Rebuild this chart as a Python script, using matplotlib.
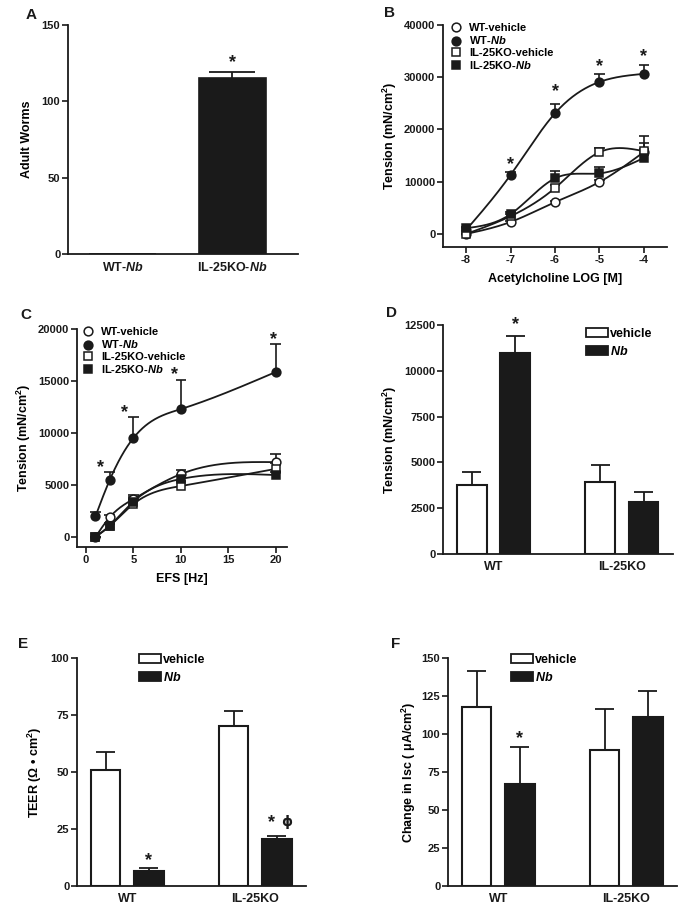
import numpy as np
import matplotlib
matplotlib.use('Agg')
import matplotlib.pyplot as plt
from matplotlib.lines import Line2D
from matplotlib.patches import Patch

plt.rcParams['font.family'] = ['Liberation Sans', 'DejaVu Sans']
plt.rcParams['font.weight'] = 'bold'
plt.rcParams['axes.labelweight'] = 'bold'
plt.rcParams['axes.unicode_minus'] = False
plt.rcParams['mathtext.fontset'] = 'custom'
plt.rcParams['mathtext.rm'] = 'Liberation Sans:bold'
plt.rcParams['mathtext.it'] = 'Liberation Sans:bold:italic'
plt.rcParams['mathtext.bf'] = 'Liberation Sans:bold'
plt.rcParams['mathtext.default'] = 'rm'

INK = '#1a1a1a'

# ---------------- data ----------------
# Panel A
a_groups = ['WT-$\\mathit{Nb}$', 'IL-25KO-$\\mathit{Nb}$']
a_values = [0, 115.3]
a_sem = [0, 3.9]

# Panel B
b_x = [-8, -7, -6, -5, -4]
b_wt_veh = [0, 2300, 6100, 9950, 15700]
b_wt_veh_sem = [0, 200, 300, 400, 600]
b_wt_nb = [770, 11300, 23100, 29100, 30650]
b_wt_nb_sem = [300, 500, 1700, 1600, 1600]
b_ko_veh = [0, 3400, 8800, 15650, 15850]
b_ko_veh_sem = [0, 400, 600, 900, 3000]
b_ko_nb = [1100, 3800, 10650, 11600, 14550]
b_ko_nb_sem = [300, 400, 1350, 1300, 2800]

# Panel C
c_x = [1, 2.5, 5, 10, 20]
c_wt_veh = [0, 1900, 3650, 6050, 7200]
c_wt_veh_sem = [0, 200, 400, 400, 800]
c_wt_nb = [2000, 5480, 9520, 12300, 15860]
c_wt_nb_sem = [450, 750, 2000, 2800, 2700]
c_ko_veh = [0, 1060, 3170, 4900, 6550]
c_ko_veh_sem = [0, 200, 500, 500, 600]
c_ko_nb = [0, 1100, 3400, 5580, 5960]
c_ko_nb_sem = [0, 200, 400, 400, 300]

series_labels = ['WT-vehicle', 'WT-$\\mathit{Nb}$', 'IL-25KO-vehicle', 'IL-25KO-$\\mathit{Nb}$']

# Bar panels D, E, F
bar_groups = ['WT', 'IL-25KO']
d_veh = [3760, 3930]
d_veh_sem = [710, 920]
d_nb = [10950, 2840]
d_nb_sem = [960, 550]

e_veh = [50.8, 70.2]
e_veh_sem = [8.0, 6.6]
e_nb = [6.6, 20.6]
e_nb_sem = [1.3, 1.3]

f_veh = [117.8, 89.5]
f_veh_sem = [23.6, 26.9]
f_nb = [67.0, 111.2]
f_nb_sem = [24.4, 17.1]

# ---------------- helpers ----------------
W, H = 688, 915
fig = plt.figure(figsize=(6.88, 9.15), dpi=100)


def add_axes(l, t, r, b):
    return fig.add_axes([l / W, 1 - b / H, (r - l) / W, (b - t) / H])


def style(ax):
    for s in ['top', 'right']:
        ax.spines[s].set_visible(False)
    for s in ['left', 'bottom']:
        ax.spines[s].set_linewidth(1.3)
        ax.spines[s].set_color(INK)
    ax.tick_params(axis='both', direction='out', length=4, width=1.2, colors=INK,
                   labelsize=8, pad=1.5)
    for lab in ax.get_xticklabels() + ax.get_yticklabels():
        lab.set_fontweight('bold')


def natural_spline(x, y, xs):
    x = np.asarray(x, float)
    y = np.asarray(y, float)
    n = len(x)
    h = np.diff(x)
    A = np.zeros((n, n))
    rhs = np.zeros(n)
    A[0, 0] = 1
    A[-1, -1] = 1
    for i in range(1, n - 1):
        A[i, i - 1] = h[i - 1]
        A[i, i] = 2 * (h[i - 1] + h[i])
        A[i, i + 1] = h[i]
        rhs[i] = 3 * ((y[i + 1] - y[i]) / h[i] - (y[i] - y[i - 1]) / h[i - 1])
    c = np.linalg.solve(A, rhs)
    b = (y[1:] - y[:-1]) / h - h * (2 * c[:-1] + c[1:]) / 3
    d = (c[1:] - c[:-1]) / (3 * h)
    idx = np.clip(np.searchsorted(x, xs) - 1, 0, n - 2)
    dx = xs - x[idx]
    return y[idx] + b[idx] * dx + c[idx] * dx ** 2 + d[idx] * dx ** 3


def curve_series(ax, x, y, sem, marker, face, capw):
    x = np.asarray(x, float)
    y = np.asarray(y, float)
    sem = np.asarray(sem, float)
    xs = np.linspace(x.min(), x.max(), 300)
    ax.plot(xs, natural_spline(x, y, xs), color=INK, lw=1.3, zorder=2)
    ax.vlines(x, y, y + sem, color=INK, lw=1.2, zorder=2)
    ax.hlines(y + sem, x - capw, x + capw, color=INK, lw=1.2, zorder=2)
    ax.plot(x, y, linestyle='none', marker=marker, ms=6.3, mfc=face, mec=INK,
            mew=1.1, zorder=3)


def bar_panel(ax, veh, veh_sem, nb, nb_sem, ymax, ystep):
    g = np.arange(len(bar_groups))
    off, w = 0.169, 0.23
    ax.bar(g - off, veh, width=w, color='white', edgecolor=INK, lw=1.5, zorder=2)
    ax.bar(g + off, nb, width=w, color=INK, edgecolor=INK, lw=1.5, zorder=2)
    for xs, v, s in [(g - off, veh, veh_sem), (g + off, nb, nb_sem)]:
        v = np.asarray(v)
        s = np.asarray(s)
        ax.vlines(xs, v, v + s, color=INK, lw=1.3, zorder=1)
        ax.hlines(v + s, xs - 0.075, xs + 0.075, color=INK, lw=1.3, zorder=1)
    ax.set_xlim(-0.393, 1.397)
    ax.set_ylim(0, ymax)
    ax.set_yticks(np.arange(0, ymax + 1, ystep))
    ax.set_xticks(g)
    ax.set_xticklabels(bar_groups, fontsize=9)
    style(ax)
    ax.tick_params(axis='x', length=0, pad=5, labelsize=9)
    return g, off


def bar_legend(ax, x, y):
    handles = [Patch(facecolor='white', edgecolor=INK, lw=1.3),
               Patch(facecolor=INK, edgecolor=INK, lw=1.3)]
    ax.legend(handles, ['vehicle', '$\\mathit{Nb}$'], loc='upper left',
              bbox_to_anchor=(x / W, 1 - y / H), bbox_transform=fig.transFigure,
              frameon=False, fontsize=9, handlelength=1.75, handleheight=0.75,
              handletextpad=0.2, labelspacing=0.42, borderpad=0, borderaxespad=0)


def marker_legend(ax, x, y):
    handles = [Line2D([], [], ls='none', marker='o', ms=6.3, mfc='white', mec=INK, mew=1.1),
               Line2D([], [], ls='none', marker='o', ms=6.3, mfc=INK, mec=INK, mew=1.1),
               Line2D([], [], ls='none', marker='s', ms=6.3, mfc='white', mec=INK, mew=1.1),
               Line2D([], [], ls='none', marker='s', ms=6.3, mfc=INK, mec=INK, mew=1.1)]
    ax.legend(handles, series_labels, loc='upper left',
              bbox_to_anchor=(x / W, 1 - y / H), bbox_transform=fig.transFigure,
              frameon=False, fontsize=8, handlelength=1.0, handletextpad=0.7,
              labelspacing=0.13, borderpad=0, borderaxespad=0)


def star(ax, x, y, s='*', size=13):
    ax.text(x, y, s, ha='center', va='center', fontsize=size, fontweight='bold',
            color=INK, zorder=4)


def panel_letter(x, y, s):
    fig.text(x / W, 1 - y / H, s, fontsize=11, fontweight='bold', ha='left',
             va='center', color=INK)


# ---------------- Panel A ----------------
axA = add_axes(68, 25, 298, 254)
ga = np.arange(len(a_groups))
axA.bar(ga, a_values, width=0.61, color=INK, edgecolor=INK, lw=1.2, zorder=2)
axA.vlines(ga[1], a_values[1], a_values[1] + a_sem[1], color=INK, lw=1.3, zorder=1)
axA.hlines(a_values[1] + a_sem[1], ga[1] - 0.21, ga[1] + 0.21, color=INK, lw=1.3)
axA.set_xlim(-0.5, 1.6)
axA.set_ylim(0, 150)
axA.set_yticks([0, 50, 100, 150])
axA.set_xticks(ga)
axA.set_xticklabels(a_groups, fontsize=9)
style(axA)
axA.tick_params(axis='x', length=0, pad=5, labelsize=9)
axA.set_ylabel('Adult Worms', fontsize=9, labelpad=6)
star(axA, ga[1], 125.5)
panel_letter(26, 15, 'A')

# ---------------- Panel B ----------------
axB = add_axes(443, 25, 667, 247)
capB = 0.12
curve_series(axB, b_x, b_wt_veh, b_wt_veh_sem, 'o', 'white', capB)
curve_series(axB, b_x, b_wt_nb, b_wt_nb_sem, 'o', INK, capB)
curve_series(axB, b_x, b_ko_veh, b_ko_veh_sem, 's', 'white', capB)
curve_series(axB, b_x, b_ko_nb, b_ko_nb_sem, 's', INK, capB)
axB.set_xlim(-8.52, -3.48)
axB.set_ylim(-2490, 40000)
axB.set_xticks(b_x)
axB.set_yticks([0, 10000, 20000, 30000, 40000])
style(axB)
axB.set_xlabel('Acetylcholine LOG [M]', fontsize=9, labelpad=6)
axB.set_ylabel('Tension (mN/cm$^2$)', fontsize=9, labelpad=4)
for xs, ys in zip([-7, -6, -5, -4], [13300, 27300, 32100, 34000]):
    star(axB, xs, ys)
marker_legend(axB, 450, 23)
panel_letter(384, 13, 'B')

# ---------------- Panel C ----------------
axC = add_axes(77, 329, 287, 547)
capC = 0.55
curve_series(axC, c_x, c_wt_veh, c_wt_veh_sem, 'o', 'white', capC)
curve_series(axC, c_x, c_wt_nb, c_wt_nb_sem, 'o', INK, capC)
curve_series(axC, c_x, c_ko_veh, c_ko_veh_sem, 's', 'white', capC)
curve_series(axC, c_x, c_ko_nb, c_ko_nb_sem, 's', INK, capC)
axC.set_xlim(-0.95, 21.2)
axC.set_ylim(-960, 20000)
axC.set_xticks([0, 5, 10, 15, 20])
axC.set_yticks([0, 5000, 10000, 15000, 20000])
style(axC)
axC.set_xlabel('EFS [Hz]', fontsize=9, labelpad=6)
axC.set_ylabel('Tension (mN/cm$^2$)', fontsize=9, labelpad=4)
for xs, ys in zip([1.5, 4.1, 9.3, 19.8], [6700, 12000, 15600, 19000]):
    star(axC, xs, ys)
marker_legend(axC, 82, 327)
panel_letter(20, 315, 'C')

# ---------------- Panel D ----------------
axD = add_axes(443, 325, 673, 554)
g, off = bar_panel(axD, d_veh, d_veh_sem, d_nb, d_nb_sem, 12500, 2500)
axD.set_ylabel('Tension (mN/cm$^2$)', fontsize=9, labelpad=4)
star(axD, g[0] + off, 12500)
bar_legend(axD, 586, 328)
panel_letter(386, 313, 'D')

# ---------------- Panel E ----------------
axE = add_axes(77, 658, 306, 886)
g, off = bar_panel(axE, e_veh, e_veh_sem, e_nb, e_nb_sem, 100, 25)
axE.set_ylabel('TEER ($\\Omega$ \u2022 cm$^2$)', fontsize=9, labelpad=5)
star(axE, g[0] + off, 11.0)
axE.text(g[1] + off - 0.04, 27.8, '*', ha='center', va='center', fontsize=13,
         fontweight='bold', color=INK)
axE.text(g[1] + off + 0.075, 28.2, '\u03d5', ha='center', va='center', fontsize=10,
         color=INK, family=['DejaVu Sans'])
bar_legend(axE, 139, 654)
panel_letter(18, 644, 'E')

# ---------------- Panel F ----------------
axF = add_axes(448, 658, 677, 886)
g, off = bar_panel(axF, f_veh, f_veh_sem, f_nb, f_nb_sem, 150, 25)
axF.set_ylabel('Change in Isc ( \u03bcA/cm$^2$)', fontsize=9, labelpad=3)
star(axF, g[0] + off, 97)
bar_legend(axF, 511, 654)
panel_letter(391, 644, 'F')

fig.savefig('out.png', dpi=100)
